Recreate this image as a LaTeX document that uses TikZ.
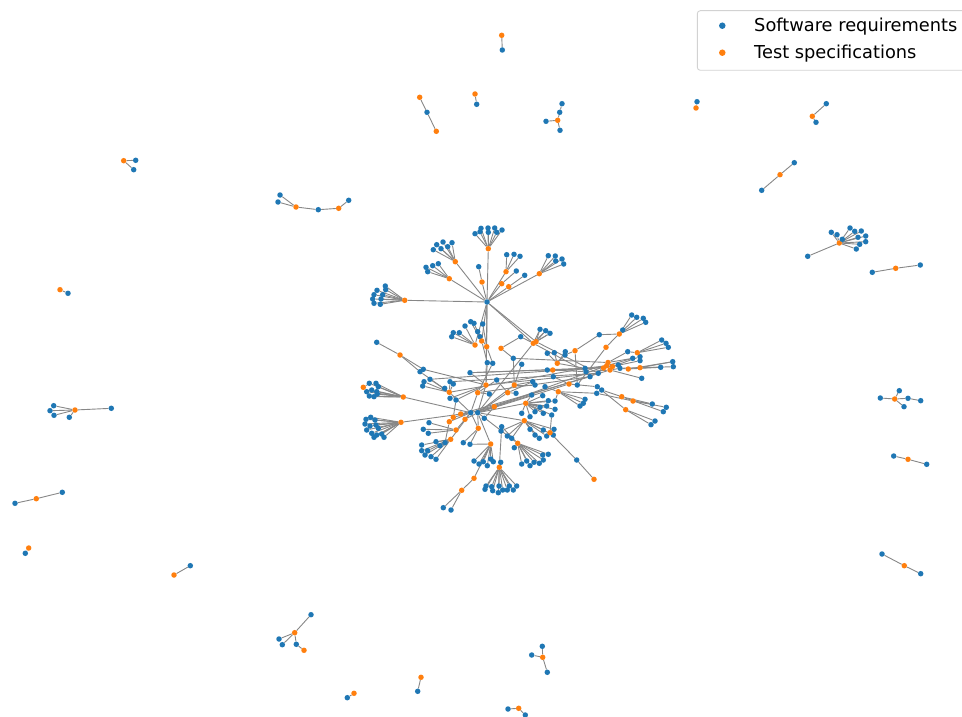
\documentclass[tikz,border=0pt]{standalone}
\usepackage{fontspec}
\setmainfont{DejaVu Sans}
\definecolor{mblue}{HTML}{1F77B4}
\definecolor{morange}{HTML}{FF7F0E}
\definecolor{egray}{RGB}{135,135,135}
\definecolor{lgray}{RGB}{210,210,210}
\pgfdeclarelayer{bg}
\pgfsetlayers{bg,main}
\tikzset{
  b/.style={circle,fill=mblue,inner sep=0pt,minimum size=5.5pt,draw=none},
  o/.style={circle,fill=morange,inner sep=0pt,minimum size=5.5pt,draw=none},
  edge/.style={draw=egray,line width=0.9pt},
  legtext/.style={anchor=west,inner sep=0pt,font=\fontsize{17.8}{20}\selectfont}
}
\begin{document}
\begin{tikzpicture}[x=1pt,y=-1pt]
\useasboundingbox (0,0) rectangle (962,717);
\clip (0,0) rectangle (962,717);
% ---------- peripheral components ----------
\foreach \n/\x/\y in {p1a/419.7/97.3, p1c/436.3/131.3, p2a/475/94, p3a/123.7/160.7, p4b/296/207, p4e/338.7/208.3, p5a/60/289.7, p6a/501.7/35.3, p7c/557.7/120.3, p8b/696/108, p9b/812.3/116.3, p10b/780/174.7, p11a/839.3/243, p12b/895.7/268.3, p13e/75/410, p14b/36.3/498.7, p15a/28.7/548, p16a/174/575, p17b/294.7/632.7, p17f/304/650.3, p18b/354/693.3, p19a/421/677.3, p20c/542.7/657.3, p21b/518.7/708.3, p22b/894.7/399, p23b/908/459.3, p24b/904.3/565.7}
  \node[o] (\n) at (\x,\y) {};
\foreach \n/\x/\y in {p1b/427/112.3, p2b/476.7/104.3, p3b/135.7/160.3, p3c/133.7/169.7, p4a/280/195, p4g/278/202, p4c/318.3/209.7, p4f/348.7/200.3, p5b/68/293.3, p6b/502.3/50, p7a/562/103.7, p7b/559.7/112.3, p7d/546/121.3, p7e/560/130.3, p8a/697/101.7, p9a/826.3/103.7, p9c/816/122.3, p10a/794.3/162.7, p10c/761.7/190.3, p11b/807.7/256.3, p11c/831.3/232.3, p11d/837/234.7, p11e/842.3/239.3, p11f/850/228, p11g/854.7/231.3, p11h/861.3/231, p11i/858/237.3, p11j/865.7/236, p11k/865.7/241.7, p11l/859.7/244.3, p11m/856.3/249, p12a/872.3/272.3, p12c/920.3/265, p13a/53.7/405.7, p13b/50/410.7, p13c/54/415.3, p13d/69.3/417.3, p13f/111.3/408.3, p14a/15/503.3, p14c/62.3/492.3, p15b/25.3/553.3, p16b/190.3/565.7, p17a/311/614.7, p17c/279/639, p17d/282.3/644.7, p17e/296.3/644.3, p18a/347.3/697.7, p19b/417.7/691.3, p20a/542.3/646.3, p20b/531.7/655, p20d/547.3/672.3, p21a/508/709, p21c/525.3/715, p22a/880.3/398, p22c/899.3/390.7, p22d/904/406.7, p22e/908/398.3, p22f/920.7/400.7, p23a/893.7/456, p23c/926.7/464.3, p24a/882/554, p24c/920.7/573.7}
  \node[b] (\n) at (\x,\y) {};
% ---------- central cluster: blue nodes ----------
\foreach \n/\x/\y in {H1/487/302, H2/470.7/412.7, H3/477.7/412.7,
 a1/385.3/286, a2/385.7/289.7, a3/377/290.3, a4/382.7/294.7, a5/374/294.7, a6/372.7/299, a7/381/299, a8/374/303.3, a9/380.3/304.3,
 b1/426/267.3, b2/432.7/265.7, b3/438.3/263.7, b4/427.7/271.7,
 c1/433.3/249.7, c2/436.7/244.7, c3/443/242, c4/441/248.7, c5/447.7/246.7, c6/452/242.7,
 d1/475/233.7, d2/481/228.3, d3/480/231.7, d4/488/228, d5/488.3/232.3, d6/494.7/228, d7/496.7/232.3, d8/502/230,
 e1/478.7/266.7, f1/506.7/254.7, f2/514/254.3, f3/520/256.3, g1/516.3/271, h1/524.7/275.3,
 i1/548.3/255.7, i2/555.3/256, i3/562/259, i4/555.7/261, i5/563.7/264,
 j1/453.3/332.7, j2/459.3/332.7, j3/451.7/336.7, j4/465/326,
 k1/470.7/321.7, k2/474/323.3, k3/477.7/331.7, l1/482.7/324, l2/480/336.7,
 m1/540/329.3, m2/545.7/330.7, m3/550/333.3, m4/520.7/336.7,
 n1/487.3/362.7, n2/492.7/363.3, n3/513.3/358.3, n4/521.7/364.3,
 q1/376.7/342.3, q2/420/371.7, q3/423.3/369.3,
 r1/369.3/383.3, r2/376/383.3, r3/378.3/386.7, r4/366.7/391.7, r5/371.7/390, r6/376.7/391.7, r7/369.3/396, r8/374/396.7, r9/377.3/394,
 s1/366/419.3, s2/370.7/417.3, s3/375/420, s4/365/424, s5/370/426, s6/376/425, s7/366.7/430, s8/371.7/433.3, s9/376.7/435, s10/381.7/434, s11/384/437.3, s12/374/437.3, s13/378.3/428.3,
 t1/430/379.3, t2/424/381.7, t3/422.7/386, t4/450/381.7, t5/453.3/384, t6/444.7/388.3,
 u3/450/398.3, u4/456/400, u5/470/372.7, v1/496.7/380, v2/489.3/394,
 w1/429/422.7, w2/423.3/429.3, w3/428.3/433.3,
 x1/421.7/445, x2/421.7/450.7, x3/427.7/450.7, x4/425/455, x5/431/456.7, x6/436/459.3, x7/436/441.7, x8/440/445.7, x9/445/442.7,
 y1/463.3/442.7, y2/470/444.3, y3/484.3/418.3,
 z1/474/461, z2/479/464, z3/483.3/461.7, z4/487.3/465.7, z5/490.7/459, z6/493.3/461.7,
 hh1/521.7/464, hh2/526.7/461, hh3/530/465.7, hh4/534/462.3, hh5/539.3/463.3, hh6/543.3/460, hh7/548.3/454.3, hh8/542.7/455, hh9/514.3/447.7,
 bb1/485/489.3, bb2/486/486, bb3/491.7/486.7, bb4/492.7/490.7, bb5/499/486, bb6/498.3/492.7, bb7/502.7/490, bb8/507.3/490, bb9/509.3/486, bb10/513.3/490, bb11/516.7/486, bb12/500.7/462.3, bb13/501.7/426.7,
 bl1/443.3/507.7, bl2/451/510,
 ii1/530/429.3, ii2/535/435, ii3/539.3/438.3, ii4/543.3/430, ii5/546.7/436, ii6/554/429.3, ii7/553.3/435, ii8/507.3/436, ii9/511.7/438.3, ii10/501/431,
 jj1/531.7/395, jj2/542.7/395.7, jj3/548.3/400.7, jj4/555/401, jj5/540/407.3, jj6/546.7/406, jj7/555/409.3, jj8/535/411.7, jj9/543.3/413.3, jj10/551.7/415, jj11/521.7/413.3, jj12/530/416.7,
 kk1/576.7/460,
 cc1/547.3/353.3, cc2/554.3/352.7, cc3/565.3/351.7, cc4/565/355, cc5/547.3/370, cc6/553.3/376.7, cc7/532.7/381.7, cc8/535/385, cc9/545/386.7, cc10/516/393.3,
 rb1/618.3/365, rb2/620/368.3, rb3/585/368.3, rb4/586/371.7, rb5/590/376.7, rb6/598.3/373.3, rb7/577.3/385, rb8/597.3/386.7, rb9/601.7/390, rb10/596.7/393.3, rb11/585/399.3, rb12/583.3/403.3, rb13/580/406, rb14/599.3/334.7, rb15/632.7/358.3, rb16/640/356.7, rb17/640/360.7, rb18/641.7/378.3, rb19/660.7/367.3, rb20/672.7/361.7, rb21/673.3/366.7, rb22/627.7/351.7, rb23/661.7/340, rb24/666/343.3, rb25/668.3/347.3, rb26/631.7/315, rb27/636.7/317.3, rb28/643.3/318.3, rb29/645.7/322.3, rb30/622.7/330, rb31/652.3/404, rb32/666.3/407.3, rb33/663.3/411.7, rb34/655/421, rb35/651/424.7}
  \node[b] (\n) at (\x,\y) {};
% ---------- central cluster: orange nodes ----------
\foreach \n/\x/\y in {oA/404.7/300.3, oB/449.3/278.7, oC/455.3/261.7, oD/488.3/248.7, oE/482/282, oF/506/271.7, oG/501.7/283.7, oH/508.7/286.7, oI/539.3/273.7,
 oJ1/475/345, oJ2/481.7/341, oJ3/486.7/346.7, oK1/533.3/343.3, oK2/536/341.7, oL/501/348.3,
 oM/400/355, oN/363.3/387.3, oP/403.3/397, oQ/401/422.3,
 oc1/486/385, oc2/449.3/392.3, oc3/477.7/392.7, oc4/507.7/392.7, oc5/514.3/385, oc7/494.3/406.7,
 oq1/460.7/414, oq2/453.3/417.3, oq3/465/419.3, oq4/449.3/421.7, oq5/456/430, oq6/450.7/439.3, oq7/478.3/428.3,
 og/490.7/444, oh/517.7/443.3, ob1/499.3/467.3, ob2/474/478.3, ob3/461.7/490.3,
 oi/524.3/420.7, oj/525.7/403.3, ok/550/432.7, ok2/594/479.3,
 oc8/558.3/391.7, oc9/569/384, oc10/552.7/370, oc11/557.3/363.3, oc12/575/350.7,
 or1/606.7/365.7, or2/610/370, or3/603.5/368, or4/612.5/366.5, or5/608/362.5, or6/628.3/369, or7/640/367.7, or8/637.3/352.7, or9/619.3/334, or10/606/347.3, or11/621.7/396.7, or12/633/401, or13/625.7/409.7}
  \node[o] (\n) at (\x,\y) {};
% ---------- connectors ----------
\begin{pgfonlayer}{bg}
\foreach \a/\b in {p1a/p1b, p1b/p1c, p2a/p2b, p3a/p3b, p3a/p3c, p4a/p4b, p4g/p4b, p4b/p4c, p4c/p4e, p4e/p4f, p5a/p5b, p6a/p6b, p7a/p7b, p7b/p7c, p7c/p7d, p7c/p7e, p8a/p8b, p9a/p9b, p9b/p9c, p10a/p10b, p10b/p10c, p12a/p12b, p12b/p12c, p14a/p14b, p14b/p14c, p15a/p15b, p16a/p16b, p17a/p17b, p17b/p17c, p17b/p17d, p17b/p17e, p17e/p17f, p18a/p18b, p19a/p19b, p20a/p20c, p20b/p20c, p20c/p20d, p21a/p21b, p21b/p21c, p22b/p22a, p22b/p22c, p22b/p22d, p22b/p22e, p22e/p22f, p23a/p23b, p23b/p23c, p24a/p24b, p24b/p24c}
  \draw[edge] (\a) -- (\b);
\foreach \t in {b,c,d,e,f,g,h,i,j,k,l,m} \draw[edge] (p11a) -- (p11\t);
\foreach \t in {a,b,c,d,f} \draw[edge] (p13e) -- (p13\t);
% hub H1
\foreach \t in {oA,oB,oC,oD,oE,oF,oG,oH,oI,oJ1,oJ2,oJ3,oK1,oK2,oc1} \draw[edge] (H1) -- (\t);
\foreach \i in {1,...,9} \draw[edge] (oA) -- (a\i);
\foreach \i in {1,...,4} \draw[edge] (oB) -- (b\i);
\foreach \i in {1,...,6} \draw[edge] (oC) -- (c\i);
\foreach \i in {1,...,8} \draw[edge] (oD) -- (d\i);
\foreach \i in {1,...,3} \draw[edge] (oF) -- (f\i);
\foreach \i in {1,...,5} \draw[edge] (oI) -- (i\i);
\foreach \i in {1,...,4} \draw[edge] (oJ1) -- (j\i);
\foreach \i in {1,...,3} \draw[edge] (oJ2) -- (k\i);
\foreach \i in {1,...,9} \draw[edge] (oP) -- (r\i);
\foreach \i in {1,...,13} \draw[edge] (oQ) -- (s\i);
\foreach \i in {1,...,6} \draw[edge] (oc2) -- (t\i);
\foreach \i in {1,...,3} \draw[edge] (oq5) -- (w\i);
\foreach \i in {1,...,9} \draw[edge] (oq6) -- (x\i);
\foreach \i in {1,...,6} \draw[edge] (og) -- (z\i);
\foreach \i in {1,...,9} \draw[edge] (oh) -- (hh\i);
\foreach \i in {1,...,13} \draw[edge] (ob1) -- (bb\i);
\foreach \i in {1,...,10} \draw[edge] (oi) -- (ii\i);
\foreach \i in {1,...,12} \draw[edge] (oj) -- (jj\i);
\foreach \i in {1,...,4} \draw[edge] (oc11) -- (cc\i);
\foreach \i in {26,...,30} \draw[edge] (or9) -- (rb\i);
\foreach \a/\b in {oE/e1, oG/g1, oH/h1, oJ3/l1, oJ3/l2, oJ2/n1, n1/oc1, oJ3/n2, n2/oc3,
 oK1/m1, oK1/m2, oK1/m3, oK2/m1, oK2/m2, oK2/m3, oK1/m4, m4/oL, oL/n3, n3/oc5, oK1/H3, oK2/rb6, oK1/rb4,
 oM/q1, oM/q2, oM/q3, q2/oc2, q3/oc1, oN/r1, oP/H2, oQ/H2,
 oc2/H2, oc2/rb3, oc1/u3, oc1/u4, oc1/u5, oc1/rb6, oc1/H3, oc3/v1, oc3/v2, oc3/H2, oc3/rb5,
 oc4/cc10, oc4/H3, oc4/v1, oc5/n4, oc5/H3, oc5/cc7, oc7/H3, oc7/H2, oc7/jj1, oc7/y3,
 oq1/H2, oq2/H2, oq3/H2, oq4/H2, oq5/H2, oq6/H2, oq7/H2, oq3/H3, oq7/H3, oq1/rb5, oq4/x9, oq2/u4,
 oq7/y1, oq7/y2, og/H3, og/y2, oh/H3, oh/bb13, ob3/bl1, ob3/bl2, ob3/ob2, ob2/og,
 oi/H3, oj/H3, ok/ii6, ok/jj10, ok/kk1, kk1/ok2,
 oc8/rb11, oc8/rb12, oc8/rb13, oc8/cc9, oc8/jj4, oc8/rb10, oc9/rb7, oc9/rb8, oc9/cc6, oc9/H3,
 oc10/cc5, oc10/cc6, oc10/rb4, oc11/rb3, oc12/rb14, oc12/cc4, oc12/rb7, cc8/oc5, cc7/oc4,
 or1/rb1, or1/rb15, or1/rb3, or1/H3, or2/rb2, or2/rb18, or2/rb4, or2/H2, or3/rb5, or3/rb6, or3/rb1, or3/u5,
 or4/rb16, or4/rb17, or4/rb1, or5/rb22, or5/rb15, or5/n3, or6/rb19, or6/rb20, or6/rb2,
 or7/rb19, or7/rb21, or7/rb20, or7/rb2, or8/rb22, or8/rb23, or8/rb24, or8/rb25,
 or9/rb14, or10/rb30, or10/rb7, or11/rb31, or11/rb33, or11/rb9, or12/rb32, or12/rb31, or12/rb10,
 or13/rb34, or13/rb35, or13/rb8, t1/or4, t4/rb6, u5/rb3}
  \draw[edge] (\a) -- (\b);
\end{pgfonlayer}
% ---------- legend ----------
\draw[lgray,line width=0.9pt,rounded corners=3pt,fill=white] (697.3,10.7) rectangle (985,70.3);
\node[b,minimum size=6.5pt] (lb) at (722.3,25.7) {};
\node[o,minimum size=6.5pt] (lo) at (722.3,52.7) {};
\node[legtext] (lt1) at (754,27) {Software requirements};
\node[legtext] (lt2) at (754,54) {Test specifications};
\end{tikzpicture}
\end{document}
